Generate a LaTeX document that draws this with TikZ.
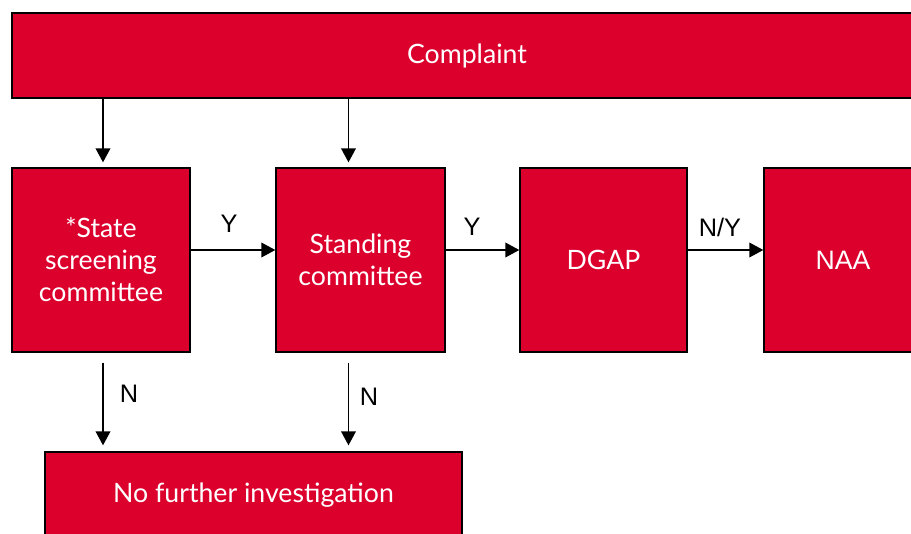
\documentclass[tikz,border=0pt]{standalone}
\usepackage{fontspec}
\setmainfont{Lato}
\newfontfamily\arialfont{Liberation Sans}
\usetikzlibrary{arrows.meta}
\definecolor{boxred}{HTML}{DC002D}
\begin{document}
\begin{tikzpicture}[
    x=0.75pt, y=-0.75pt,
    stage/.style={shape=rectangle, draw=black, fill=boxred, line width=1pt, text=white, align=center, font=\fontsize{20}{24}\selectfont, inner sep=0pt},
    answer/.style={font=\arialfont\fontsize{19}{22}\selectfont, inner sep=0pt},
    flow/.style={line width=1.2pt, -{Triangle[width=11pt,length=10.5pt]}},
  ]
    \useasboundingbox (0,0) rectangle (911,533);

    \node[stage, minimum width=682.5pt, minimum height=63.75pt] (cmp) at (467,55.5) {Complaint};

    \node[stage, minimum width=133.5pt, minimum height=138pt] (ssc) at (101,260) {*State\\screening\\committee};
    \node[stage, minimum width=126.75pt, minimum height=138pt] (stc) at (360.5,260) {Standing\\committee};
    \node[stage, minimum width=125.25pt, minimum height=138pt] (dgap) at (603.5,260) {DGAP};
    \node[stage, minimum width=118.5pt, minimum height=138pt, font=\arialfont\fontsize{20}{24}\selectfont] (naa) at (843,260) {NAA};

    \node[stage, minimum width=312.75pt, minimum height=64.5pt] (nfi) at (253.5,495) {No further investigation};

    \draw[flow, shorten >=3.75pt] ([xshift=1.5pt]cmp.south -| ssc.north) -- ([xshift=1.5pt]ssc.north);
    \draw[flow, shorten >=3.75pt] ([xshift=-9pt]cmp.south -| stc.north) -- ([xshift=-9pt]stc.north);

    \draw[flow] ([yshift=7.5pt]ssc.east) -- ([yshift=7.5pt]stc.west);
    \draw[flow] ([yshift=7.5pt]stc.east) -- ([yshift=7.5pt]dgap.west);
    \draw[flow] ([yshift=7.5pt]dgap.east) -- ([yshift=7.5pt]naa.west);

    \draw[flow, shorten <=7.5pt, shorten >=4.5pt] ([xshift=1.5pt]ssc.south) -- ([xshift=1.5pt]ssc.south |- nfi.north);
    \draw[flow, shorten <=7.5pt, shorten >=4.5pt] ([xshift=-9pt]stc.south) -- ([xshift=-9pt]stc.south |- nfi.north);

    \node[answer] (y1) at (229,224) {Y};
    \node[answer] (y2) at (472,227) {Y};
    \node[answer] (ny) at (720,227) {N/Y};
    \node[answer] (n1) at (129,394) {N};
    \node[answer] (n2) at (369,397) {N};

  \end{tikzpicture}
\end{document}
